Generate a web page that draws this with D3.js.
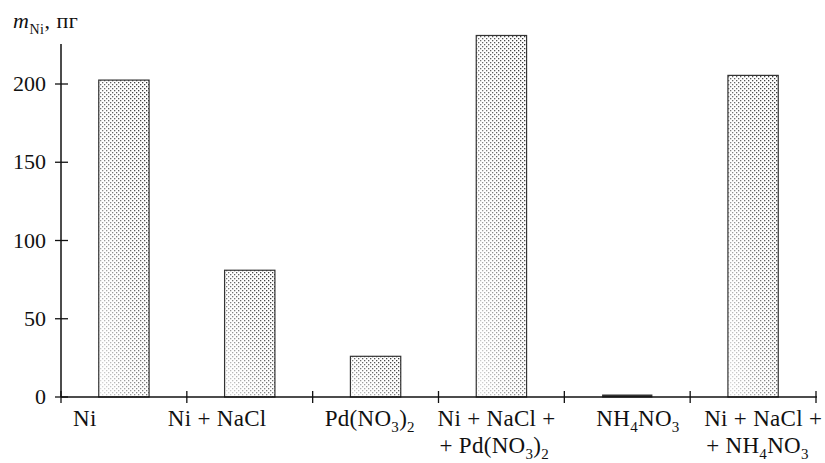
<!DOCTYPE html>
<html>
<head>
<meta charset="utf-8">
<script src="https://cdn.jsdelivr.net/npm/d3@7"></script>
<style>
  body { margin: 0; background: #fff; }
</style>
</head>
<body>
<svg id="chart" width="825" height="463"></svg>
<script>
// Data
const categories = ['Ni', 'Ni+NaCl', 'Pd', 'Ni+NaCl+Pd', 'NH4NO3', 'Ni+NaCl+NH4NO3'];
const values = [202.5, 81, 26, 231, 1, 205.5];
const yTicks = [0, 50, 100, 150, 200];

// label lines: each line is a list of [text, subscript] segments
const labels = [
  [[['Ni', '']]],
  [[['Ni + NaCl', '']]],
  [[['Pd(NO', '3'], [')', '2']]],
  [[['Ni + NaCl +', '']], [['+ Pd(NO', '3'], [')', '2']]],
  [[['NH', '4'], ['NO', '3']]],
  [[['Ni + NaCl +', '']], [['+ NH', '4'], ['NO', '3']]]
];

const FONT = '"Liberation Serif"';
const svg = d3.select('#chart');

const x = d3.scaleBand().domain(categories).range([61, 816]).paddingInner(0.6).paddingOuter(0.3);
const y = d3.scaleLinear().domain([0, 200]).range([397, 84]);

// label start offsets from the left tick of each band (layout only)
const labelOffset = [12, -19, 12, -1, 32, 14];

// dot pattern + fade overlay
const defs = svg.append('defs');
const pat = defs.append('pattern')
  .attr('id', 'dots').attr('patternUnits', 'userSpaceOnUse')
  .attr('width', 4).attr('height', 4);
pat.append('rect').attr('x', 0).attr('y', 0).attr('width', 1.3).attr('height', 1.3).attr('fill', '#333');
pat.append('rect').attr('x', 2).attr('y', 2).attr('width', 1.3).attr('height', 1.3).attr('fill', '#333');

const grad = defs.append('linearGradient')
  .attr('id', 'fade').attr('x1', 0).attr('y1', 1).attr('x2', 1).attr('y2', 0);
grad.append('stop').attr('offset', '0%').attr('stop-color', '#fff').attr('stop-opacity', 0.85);
grad.append('stop').attr('offset', '55%').attr('stop-color', '#fff').attr('stop-opacity', 0.25);
grad.append('stop').attr('offset', '100%').attr('stop-color', '#fff').attr('stop-opacity', 0);

// bars
const bars = svg.append('g');
categories.forEach((c, i) => {
  const bx = x(c), bw = x.bandwidth();
  const by = y(values[i]), bh = y(0) - y(values[i]);
  if (values[i] < 3) {
    bars.append('line')
      .attr('x1', bx).attr('x2', bx + bw)
      .attr('y1', y(0) - 1).attr('y2', y(0) - 1)
      .attr('stroke', '#333').attr('stroke-width', 3);
    return;
  }
  bars.append('rect').attr('x', bx).attr('y', by).attr('width', bw).attr('height', bh)
    .attr('fill', 'url(#dots)');
  bars.append('rect').attr('x', bx).attr('y', by).attr('width', bw).attr('height', bh)
    .attr('fill', 'url(#fade)');
  bars.append('rect').attr('x', bx).attr('y', by).attr('width', bw).attr('height', bh)
    .attr('fill', 'none').attr('stroke', '#333').attr('stroke-width', 1.2);
});

// y axis
const ax = svg.append('g');
ax.append('line').attr('x1', 61).attr('x2', 61).attr('y1', 44).attr('y2', 397)
  .attr('stroke', '#111').attr('stroke-width', 1.5);
yTicks.forEach(t => {
  ax.append('line').attr('x1', 55).attr('x2', 68).attr('y1', y(t)).attr('y2', y(t))
    .attr('stroke', '#111').attr('stroke-width', 1.3);
  ax.append('text').attr('x', 46).attr('y', y(t) + 7)
    .style('font-family', FONT)
    .attr('text-anchor', 'end').attr('font-size', 22).attr('fill', '#111').text(t);
});

// x axis
ax.append('line').attr('x1', 61).attr('x2', 817).attr('y1', 397).attr('y2', 397)
  .attr('stroke', '#111').attr('stroke-width', 1.5);
// ticks at band boundaries
const bandEdge = i => i < categories.length
  ? x(categories[i]) - x.bandwidth() * 0.75
  : x(categories[i - 1]) + x.bandwidth() * 1.75;
d3.range(categories.length + 1).forEach(i => {
  const px = bandEdge(i);
  ax.append('line').attr('x1', px).attr('x2', px).attr('y1', 391).attr('y2', 403)
    .attr('stroke', '#111').attr('stroke-width', 1.3);
});

// x labels
categories.forEach((c, i) => {
  const lx = bandEdge(i) + labelOffset[i];
  labels[i].forEach((line, li) => {
    const t = ax.append('text')
      .attr('x', lx + li * 2).attr('y', 426 + li * 27)
      .style('font-family', FONT).style('letter-spacing', '0.3px')
      .attr('font-size', 23).attr('fill', '#111');
    let pending = 0;
    line.forEach(([txt, sub]) => {
      t.append('tspan').attr('dy', pending).text(txt);
      pending = 0;
      if (sub) {
        t.append('tspan').attr('font-size', 15).attr('dy', 6).text(sub);
        pending = -6;
      }
    });
  });
});

// y title
const yt = svg.append('text').attr('x', 13).attr('y', 28).attr('font-size', 22)
  .style('font-family', FONT).style('letter-spacing', '0.5px').attr('fill', '#111');
yt.append('tspan').attr('font-style', 'italic').text('m');
yt.append('tspan').attr('font-size', 14).attr('dy', 6).text('Ni');
yt.append('tspan').attr('dy', -6).text(', пг');
</script>
</body>
</html>
